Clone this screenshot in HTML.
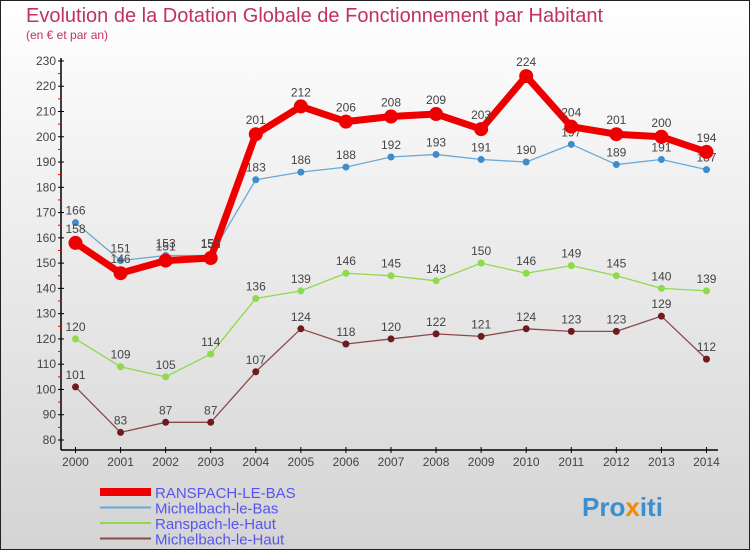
<!DOCTYPE html>
<html><head><meta charset="utf-8"><style>
body{margin:0;width:750px;height:550px;overflow:hidden;font-family:"Liberation Sans",sans-serif}
svg{display:block}
</style></head><body>
<svg id="c" width="750" height="550" xmlns="http://www.w3.org/2000/svg">
<defs><linearGradient id="bg" x1="0" y1="0" x2="0" y2="1"><stop offset="0" stop-color="#ffffff"/><stop offset="1" stop-color="#d4d4d4"/></linearGradient></defs>
<rect x="0.5" y="0.5" width="749" height="549" fill="url(#bg)" stroke="#222"/>
<text x="26" y="22" font-size="20" fill="#c0335a">Evolution de la Dotation Globale de Fonctionnement par Habitant</text>
<text x="26" y="39" font-size="12" fill="#c0335a">(en € et par an)</text>
<g id="axes"></g><g id="series"></g><g id="legend"></g>
<text x="582" y="516" font-size="26" font-weight="bold" fill="#3a8fd0">Pro<tspan fill="#f08a00">x</tspan>iti</text>
</svg>
<script>
const years=[2000,2001,2002,2003,2004,2005,2006,2007,2008,2009,2010,2011,2012,2013,2014];
const ranspachBas=[158,146,151,152,201,212,206,208,209,203,224,204,201,200,194];
const michelbachBas=[166,151,153,153,183,186,188,192,193,191,190,197,189,191,187];
const ranspachHaut=[120,109,105,114,136,139,146,145,143,150,146,149,145,140,139];
const michelbachHaut=[101,83,87,87,107,124,118,120,122,121,124,123,123,129,112];
const yTicks=[80,90,100,110,120,130,140,150,160,170,180,190,200,210,220,230];
const NS="http://www.w3.org/2000/svg";
const X=i=>75.5+i*45.07;
const Y=v=>440-(v-80)*2.527;
function mk(t,a,p){const e=document.createElementNS(NS,t);for(const k in a)e.setAttribute(k,a[k]);p.appendChild(e);return e;}
const ax=document.getElementById('axes');
let l=mk('line',{x1:61,y1:58,x2:61,y2:450,stroke:'#000','stroke-width':1.5},ax);


l=mk('line',{x1:61,y1:450,x2:718,y2:450,stroke:'#000','stroke-width':1.5},ax);


yTicks.forEach((v,i)=>{
  mk('line',{x1:58,y1:Y(v),x2:64,y2:Y(v),stroke:'#000'},ax);
  if(i<yTicks.length-1)mk('line',{x1:58,y1:Y(v+5),x2:61,y2:Y(v+5),stroke:'#e00'},ax);
  const t=mk('text',{x:56,y:Y(v)+4,'text-anchor':'end','font-size':12,fill:'#444'},ax);t.textContent=v;
  
  
});
years.forEach((y,i)=>{
  mk('line',{x1:X(i),y1:447,x2:X(i),y2:453,stroke:'#000'},ax);
  const t=mk('text',{x:X(i),y:466,'text-anchor':'middle','font-size':12,fill:'#444'},ax);t.textContent=y;
  
  
});
const series=[
 {name:'michelbach-le-haut',d:michelbachHaut,c:'#6e1a1f',lc:'#8a4a4a',w:1.3,r:3.5,label:'Michelbach-le-Haut'},
 {name:'ranspach-le-haut',d:ranspachHaut,c:'#8fd94c',lc:'#8fd94c',w:1.3,r:3.5,label:'Ranspach-le-Haut'},
 {name:'michelbach-le-bas',d:michelbachBas,c:'#3f8ccc',lc:'#6aa8d6',w:1.3,r:3.5,label:'Michelbach-le-Bas'},
 {name:'ranspach-le-bas',d:ranspachBas,c:'#ee0000',lc:'#ee0000',w:7,r:7,label:'RANSPACH-LE-BAS'}];
const sg=document.getElementById('series');
series.forEach(s=>{
  const g=mk('g',{},sg);
  
  
  const p=mk('polyline',{points:s.d.map((v,i)=>X(i)+','+Y(v)).join(' '),fill:'none',stroke:s.lc,'stroke-width':s.w,'stroke-linejoin':'round'},g);
  
  
  s.d.forEach((v,i)=>{
    const c=mk('circle',{cx:X(i),cy:Y(v),r:s.r,fill:s.c},g);
    
    
    const t=mk('text',{x:X(i),y:Y(v)-(s.w>5?10:8),'text-anchor':'middle','font-size':12,fill:'#444'},g);t.textContent=v;
    
    
  });
});
const lg=document.getElementById('legend');
series.slice().reverse().forEach((s,i)=>{
  const y=492+i*15.5;
  const g=mk('g',{},lg);
  
  
  mk('line',{x1:100,y1:y,x2:151,y2:y,stroke:s.lc,'stroke-width':s.w>5?8:2},g);
  const t=mk('text',{x:155,y:y+6,'font-size':15,fill:'#5555ee'},g);t.textContent=s.label;
  
  
});
</script>
</body></html>
